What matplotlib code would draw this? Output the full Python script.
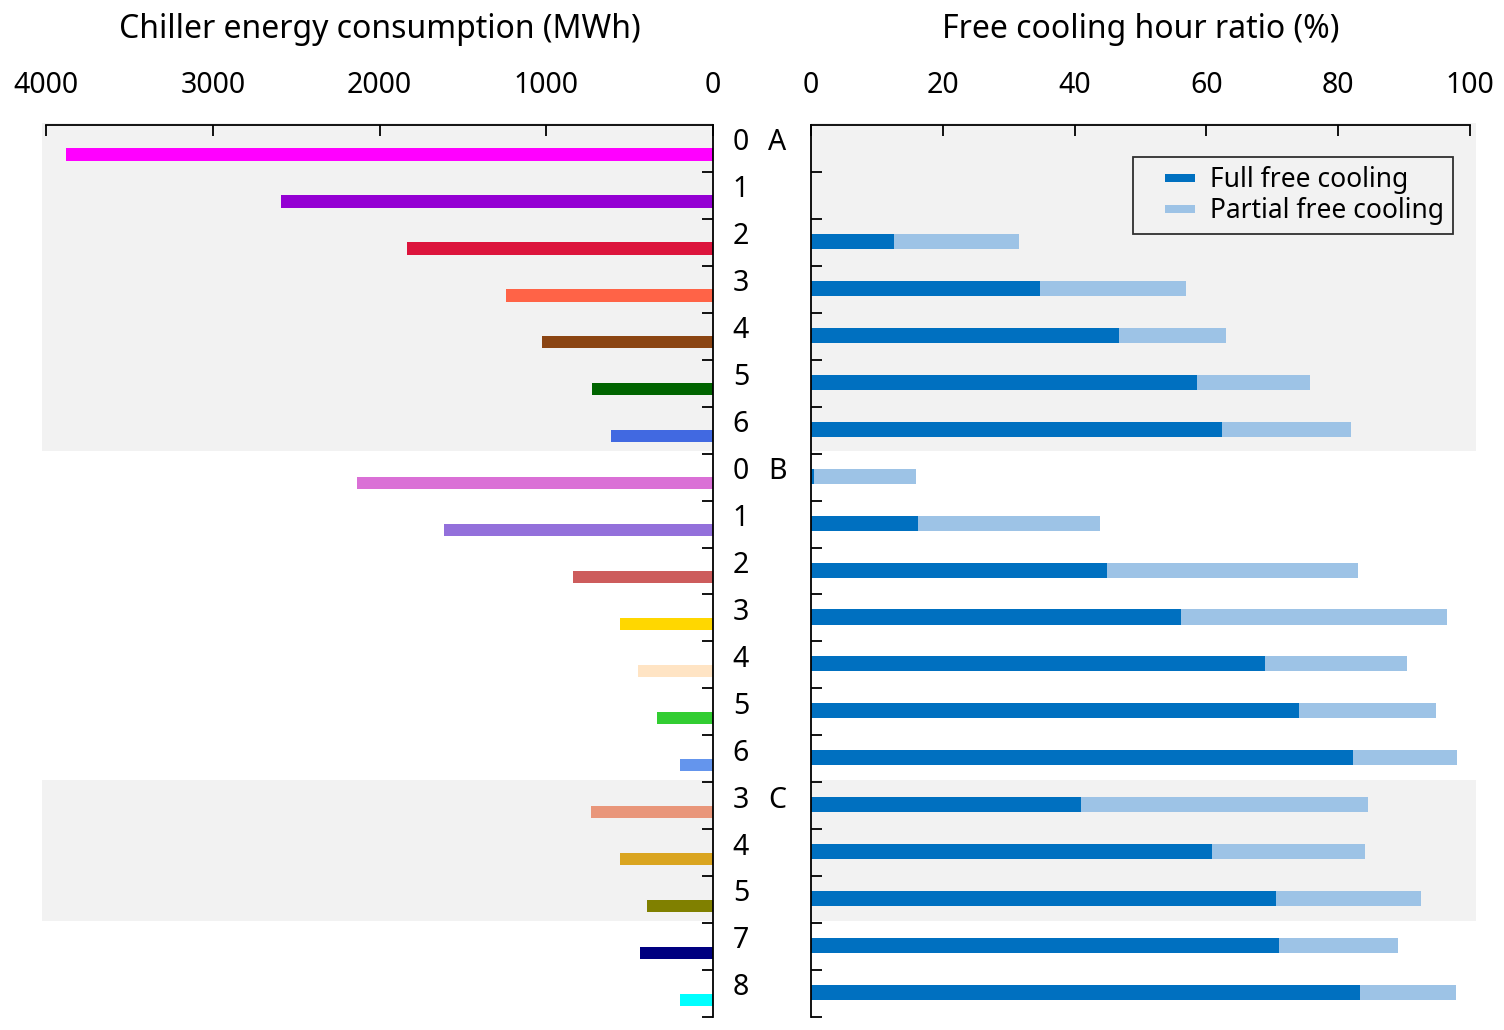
import matplotlib.pyplot as plt
import numpy as np
from matplotlib.patches import Rectangle
from matplotlib.container import BarContainer
from matplotlib.legend_handler import HandlerPatch, update_from_first_child

plt.rcParams['font.family'] = ['Noto Sans', 'DejaVu Sans']

case_nums = ['0', '1', '2', '3', '4', '5', '6',
             '0', '1', '2', '3', '4', '5', '6',
             '3', '4', '5', '7', '8']
group_labels = {0: 'A', 7: 'B', 14: 'C'}

energy = [3880, 2590, 1835, 1240, 1025, 726, 614,
          2135, 1613, 840, 558, 450, 336, 198,
          732, 558, 396, 438, 198]

bar_colors = ['#FF00FF', '#9400D3', '#DC143C', '#FF6347', '#8B4513', '#006400', '#4169E1',
              '#DA70D6', '#9370DB', '#CD5C5C', '#FFD700', '#FFE4C4', '#32CD32', '#6495ED',
              '#E9967A', '#DAA520', '#808000', '#000080', '#00FFFF']

full_fc = [0, 0, 12.6, 34.7, 46.7, 58.5, 62.4,
           0.4, 16.2, 44.9, 56.1, 68.9, 74.1, 82.2,
           41.0, 60.8, 70.5, 71.0, 83.3]
total_fc = [0, 0, 31.6, 56.9, 63.0, 75.7, 81.9,
            15.9, 43.9, 83.0, 96.5, 90.5, 94.9, 98.1,
            84.5, 84.0, 92.6, 89.0, 97.8]
partial_fc = [t - f for t, f in zip(total_fc, full_fc)]

shaded = [(0, 7), (14, 17)]

n = len(case_nums)
rows = np.arange(n)
fs = 19
tick_fs = 20.5
title_fs = 23


def small_rect(legend, orig_handle, xdescent, ydescent, width, height, fontsize):
    # short, flat swatch sitting at the right end of the handle box
    return Rectangle((-xdescent + width * 0.42, -ydescent + height * 0.27),
                     width * 0.58, height * 0.46)


fig = plt.figure(figsize=(15.04, 10.30), dpi=100)
ax1 = fig.add_axes([46 / 1504, 1 - 1017 / 1030, 667 / 1504, 892 / 1030])
ax2 = fig.add_axes([811 / 1504, 1 - 1017 / 1030, 659 / 1504, 892 / 1030])

for a, b in shaded:
    ax1.axhspan(a - 0.05, b - 0.05, xmin=-0.006, xmax=1, color='#F2F2F2', lw=0, zorder=0, clip_on=False)
    ax2.axhspan(a - 0.05, b - 0.05, xmin=0, xmax=1.009, color='#F2F2F2', lw=0, zorder=0, clip_on=False)

# left: chiller energy
ax1.barh(rows + 0.63, energy, height=0.26, color=bar_colors, zorder=2)
ax1.set_xlim(4000, 0)
ax1.set_ylim(n, 0)

# right: free cooling ratio
ax2.barh(rows + 0.48, full_fc, height=0.32, color='#0070C0', label='Full free cooling', zorder=2)
ax2.barh(rows + 0.48, partial_fc, left=full_fc, height=0.32, color='#9DC3E6',
         label='Partial free cooling', zorder=2)
ax2.set_xlim(0, 100)
ax2.set_ylim(n, 0)

for ax in (ax1, ax2):
    ax.set_facecolor('none')
    ax.xaxis.tick_top()
    ax.xaxis.set_label_position('top')
    ax.spines['bottom'].set_visible(False)
    ax.set_yticks(np.arange(1, n + 1))
    ax.set_yticklabels([])
    ax.tick_params(axis='both', direction='in', length=8, width=1.3, labelsize=tick_fs)
    ax.tick_params(axis='x', pad=18)
    for s in ax.spines.values():
        s.set_linewidth(1.3)

ax1.spines['left'].set_visible(False)
ax1.yaxis.tick_right()
ax1.set_xticks([4000, 3000, 2000, 1000, 0])
ax1.set_xlabel('Chiller energy consumption (MWh)', fontsize=title_fs, labelpad=24)

ax2.spines['right'].set_visible(False)
ax2.set_xticks([0, 20, 40, 60, 80, 100])
ax2.set_xlabel('Free cooling hour ratio (%)', fontsize=title_fs, labelpad=24)

# middle labels
trans = ax1.get_yaxis_transform()
for i, lab in enumerate(case_nums):
    ax1.text(1.042, i + 0.38, lab, transform=trans, ha='center', va='center',
             fontsize=tick_fs, clip_on=False)
for i, g in group_labels.items():
    ax1.text(1.096, i + 0.38, g, transform=trans, ha='center', va='center',
             fontsize=tick_fs, clip_on=False)

leg = ax2.legend(loc='upper right', bbox_to_anchor=(0.974, 0.964), fontsize=fs,
                 frameon=True, fancybox=False, handlelength=2.0, handleheight=0.7,
                 handletextpad=0.55, borderpad=0.35, labelspacing=0.1, borderaxespad=0,
                 handler_map={BarContainer: HandlerPatch(patch_func=small_rect,
                                                         update_func=update_from_first_child)})
leg.get_frame().set_edgecolor('black')
leg.get_frame().set_linewidth(1.3)
leg.get_frame().set_facecolor('#F2F2F2')

plt.savefig('out.png', dpi=100)
